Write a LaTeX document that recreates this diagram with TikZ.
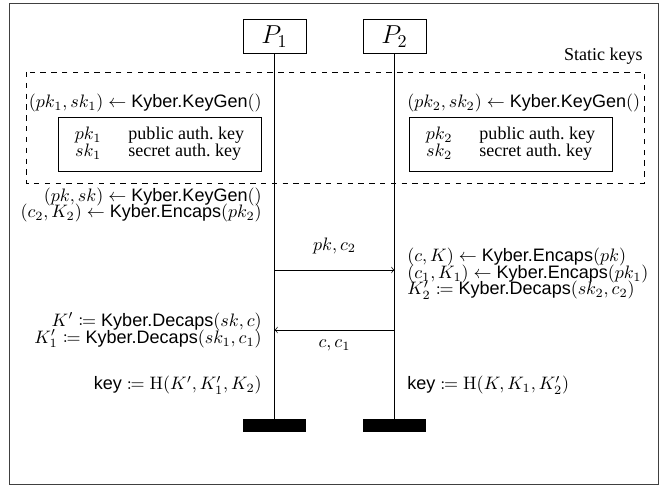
\documentclass[tikz,border=0pt]{standalone}
\usepackage[no-math]{fontspec}
\setmainfont{Liberation Serif}
\setsansfont{Liberation Sans}
\usepackage{mathtools}
\usetikzlibrary{positioning}
\newcommand{\KyberGen}{\textsf{Kyber.KeyGen}}
\newcommand{\KyberEnc}{\textsf{Kyber.Encaps}}
\newcommand{\KyberDec}{\textsf{Kyber.Decaps}}
\newcommand{\KeyName}{\textsf{key}}
\tikzstyle{party} = [rectangle, draw=black, minimum width=1.23cm,
                     minimum height=0.64cm, font=\Large]
\tikzstyle{keybox} = [rectangle, draw=black, minimum width=3.96cm,
                      minimum height=1.05cm, inner sep=0pt,
                      font=\fontsize{10}{8.3}\selectfont]
\tikzstyle{lifeend} = [rectangle, fill=black, minimum width=1.23cm,
                       minimum height=0.25cm, inner sep=0pt]
\tikzstyle{calcl} = [inner sep=0pt, anchor=base east]
\tikzstyle{calcr} = [inner sep=0pt, anchor=base west]
\tikzstyle{arrow} = [->]

\begin{document}
\begin{tikzpicture}[x=0.0195cm, y=-0.0195cm]
        \useasboundingbox (0,0) rectangle (668,486);
        \draw [black!75] (9,3) rectangle (658,484); %frame
        
        \node (P1) [party] at (274.5,36.5) {$P_1$};
        \node (P2) [party] at (394.5,36.5) {$P_2$};
        \node (End1) [lifeend] at (274.5,425.5) {};
        \node (End2) [lifeend] at (394.5,425.5) {};
        \draw (P1) -- (End1); %party 1
        \draw (P2) -- (End2); %party 2
        
        % static keys
        \draw [dashed] (26,72) rectangle (644,183);
        \node (StaticLabel) [calcl] at (643,61) {Static keys};
        \node (Gen1) [calcl] at (262,108) {$(pk_1, sk_1) \leftarrow \KyberGen()$};
        \node (Gen2) [calcr] at (407,108) {$(pk_2, sk_2) \leftarrow \KyberGen()$};
        \node (Keys1) [keybox] at (159.5,144) {\begin{tabular}{@{}c@{\hspace{15pt}}l@{}}
            $pk_1$ & public auth.\ key\\ $sk_1$ & secret auth.\ key \end{tabular}};
        \node (Keys2) [keybox] at (510.5,144) {\begin{tabular}{@{}c@{\hspace{15pt}}l@{}}
            $pk_2$ & public auth.\ key\\ $sk_2$ & secret auth.\ key \end{tabular}};
        
        % first message
        \node (Eph) [calcl] at (262,201.5) {$(pk, sk) \leftarrow \KyberGen()$};
        \node (Enc2) [calcl] at (262,218) {$(c_2, K_2) \leftarrow \KyberEnc(pk_2)$};
        \coordinate (Send1) at (P1 |- 0,270);
        \coordinate (Recv1) at (P2 |- 0,270);
        \draw [arrow] (Send1) -- node (Msg1) [above=5.5pt] {$pk, c_2$} (Recv1);
        
        % second message
        \node (Enc) [calcr] at (407,262) {$(c, K) \leftarrow \KyberEnc(pk)$};
        \node (Enc1) [calcr] at (407,278.5) {$(c_1, K_1) \leftarrow \KyberEnc(pk_1)$};
        \node (Dec2) [calcr] at (407,295) {$K_2' \coloneqq \KyberDec(sk_2, c_2)$};
        \coordinate (Send2) at (P2 |- 0,330);
        \coordinate (Recv2) at (P1 |- 0,330);
        \draw [arrow] (Send2) -- node (Msg2) [below=2pt] {$c, c_1$} (Recv2);
        \node (Dec) [calcl] at (262,326.5) {$K' \coloneqq \KyberDec(sk, c)$};
        \node (Dec1) [calcl] at (262,343.5) {$K_1' \coloneqq \KyberDec(sk_1, c_1)$};
        
        % session key
        \node (Key1) [calcl] at (262,390) {$\KeyName \coloneqq \mathrm{H}(K', K_1', K_2)$};
        \node (Key2) [calcr] at (407,390) {$\KeyName \coloneqq \mathrm{H}(K, K_1, K_2')$};
        
\end{tikzpicture}
\end{document}
